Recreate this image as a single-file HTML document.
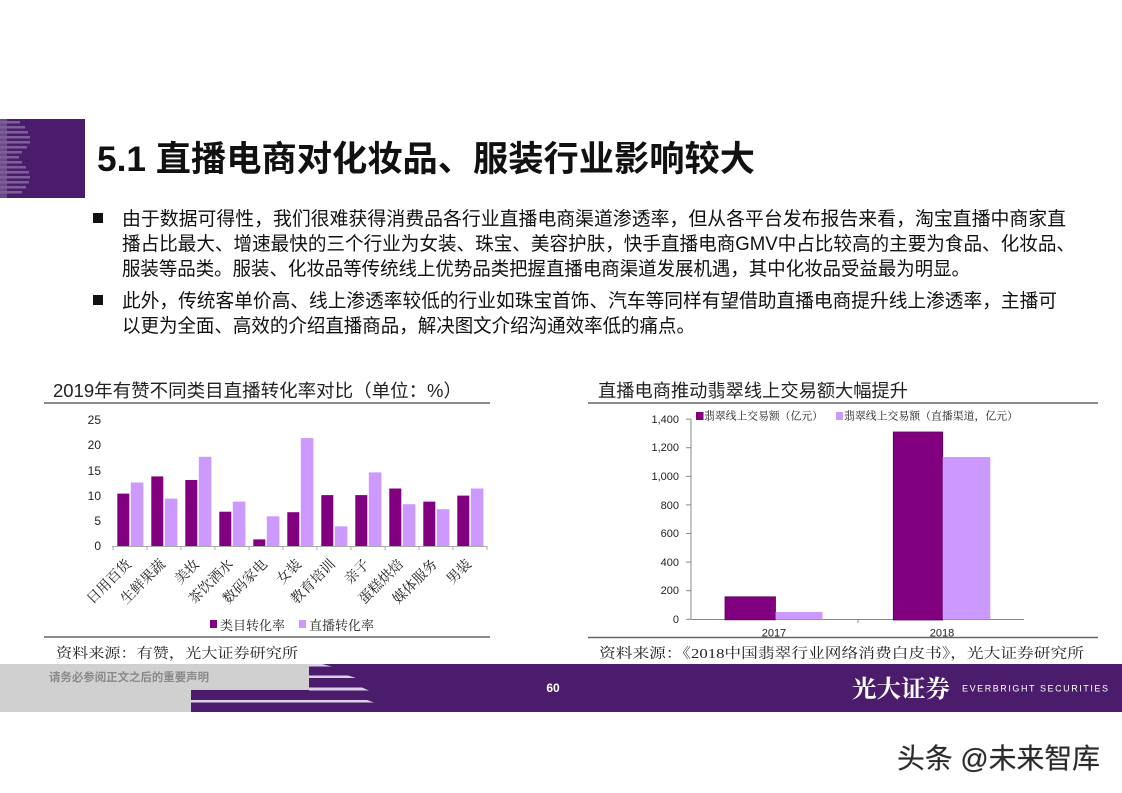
<!DOCTYPE html>
<html><head><meta charset="utf-8"><style>
html,body{margin:0;padding:0;background:#fff;}
svg{display:block;}
.sans{font-family:"Liberation Sans","Noto Sans CJK SC",sans-serif;}
.serif{font-family:"Liberation Serif","Noto Serif CJK SC",serif;}
</style></head><body>
<svg width="1122" height="793" viewBox="0 0 1122 793" xmlns="http://www.w3.org/2000/svg">
<rect x="0" y="0" width="1122" height="793" fill="#fff"/>

<!-- Logo box -->
<rect x="0" y="119" width="85" height="79" fill="#4b1c6b"/>
<rect x="0" y="119" width="7" height="79" fill="#6a4a88"/>
<g fill="#7d609a">
<rect x="0" y="121" width="20" height="2.5"/>
<rect x="0" y="126" width="25" height="2.5"/>
<rect x="0" y="131" width="28" height="2.5"/>
<rect x="0" y="136" width="30" height="2.5"/>
<rect x="0" y="141" width="30" height="2.5"/>
<rect x="0" y="146" width="27" height="2.5"/>
<rect x="0" y="151" width="22" height="2.5"/>
<rect x="0" y="156" width="19" height="2.5"/>
<rect x="0" y="161" width="22" height="2.5"/>
<rect x="0" y="166" width="26" height="2.5"/>
<rect x="0" y="171" width="29" height="2.5"/>
<rect x="0" y="176" width="30" height="2.5"/>
<rect x="0" y="181" width="29" height="2.5"/>
<rect x="0" y="186" width="26" height="2.5"/>
<rect x="0" y="191" width="22" height="2.5"/>
</g>

<!-- Title -->
<text class="sans" x="97" y="171" font-size="35" font-weight="bold" fill="#111" textLength="658" lengthAdjust="spacingAndGlyphs">5.1 直播电商对化妆品、服装行业影响较大</text>

<!-- Bullets -->
<rect x="93" y="213" width="10" height="10" fill="#111"/>
<rect x="93" y="295" width="10" height="10" fill="#111"/>
<g class="sans" font-size="19" fill="#111">
<text x="122" y="225" textLength="944" lengthAdjust="spacingAndGlyphs">由于数据可得性，我们很难获得消费品各行业直播电商渠道渗透率，但从各平台发布报告来看，淘宝直播中商家直</text>
<text x="122" y="250" textLength="953" lengthAdjust="spacingAndGlyphs">播占比最大、增速最快的三个行业为女装、珠宝、美容护肤，快手直播电商GMV中占比较高的主要为食品、化妆品、</text>
<text x="122" y="275" textLength="848" lengthAdjust="spacingAndGlyphs">服装等品类。服装、化妆品等传统线上优势品类把握直播电商渠道发展机遇，其中化妆品受益最为明显。</text>
<text x="122" y="307" textLength="935" lengthAdjust="spacingAndGlyphs">此外，传统客单价高、线上渗透率较低的行业如珠宝首饰、汽车等同样有望借助直播电商提升线上渗透率，主播可</text>
<text x="122" y="332" textLength="573" lengthAdjust="spacingAndGlyphs">以更为全面、高效的介绍直播商品，解决图文介绍沟通效率低的痛点。</text>
</g>

<!-- LEFT CHART -->
<text class="sans" x="53" y="397" font-size="18" fill="#222" textLength="409" lengthAdjust="spacingAndGlyphs">2019年有赞不同类目直播转化率对比（单位：%）</text>
<line x1="44" y1="403" x2="490" y2="403" stroke="#666" stroke-width="1.5"/>
<g class="sans" font-size="12" fill="#222" text-anchor="end">
<text x="101" y="424">25</text>
<text x="101" y="449">20</text>
<text x="101" y="475">15</text>
<text x="101" y="500">10</text>
<text x="101" y="525">5</text>
<text x="101" y="550">0</text>
</g>
<g>
<!-- dark bars: x=117.3+34k, w=12 -->
<rect x="117.3" y="493.6" width="12" height="52.4" fill="#800080"/>
<rect x="151.3" y="476.4" width="12" height="69.6" fill="#800080"/>
<rect x="185.3" y="480.0" width="12" height="66.0" fill="#800080"/>
<rect x="219.3" y="511.7" width="12" height="34.3" fill="#800080"/>
<rect x="253.3" y="539.4" width="12" height="6.6" fill="#800080"/>
<rect x="287.3" y="512.2" width="12" height="33.8" fill="#800080"/>
<rect x="321.3" y="495.1" width="12" height="50.9" fill="#800080"/>
<rect x="355.3" y="495.1" width="12" height="50.9" fill="#800080"/>
<rect x="389.3" y="488.5" width="12" height="57.5" fill="#800080"/>
<rect x="423.3" y="501.6" width="12" height="44.4" fill="#800080"/>
<rect x="457.3" y="495.6" width="12" height="50.4" fill="#800080"/>
<!-- light bars -->
<rect x="130.8" y="482.5" width="12.6" height="63.5" fill="#cc99ff"/>
<rect x="164.8" y="498.6" width="12.6" height="47.4" fill="#cc99ff"/>
<rect x="198.8" y="456.8" width="12.6" height="89.2" fill="#cc99ff"/>
<rect x="232.8" y="501.6" width="12.6" height="44.4" fill="#cc99ff"/>
<rect x="266.8" y="516.3" width="12.6" height="29.7" fill="#cc99ff"/>
<rect x="300.8" y="438.1" width="12.6" height="107.9" fill="#cc99ff"/>
<rect x="334.8" y="526.3" width="12.6" height="19.7" fill="#cc99ff"/>
<rect x="368.8" y="472.4" width="12.6" height="73.6" fill="#cc99ff"/>
<rect x="402.8" y="504.2" width="12.6" height="41.8" fill="#cc99ff"/>
<rect x="436.8" y="509.2" width="12.6" height="36.8" fill="#cc99ff"/>
<rect x="470.8" y="488.5" width="12.6" height="57.5" fill="#cc99ff"/>
</g>
<line x1="112" y1="546.5" x2="487" y2="546.5" stroke="#aaa" stroke-width="1"/>
<g stroke="#aaa" stroke-width="1">
<line x1="113" y1="546" x2="113" y2="550"/><line x1="147" y1="546" x2="147" y2="550"/><line x1="181" y1="546" x2="181" y2="550"/><line x1="215" y1="546" x2="215" y2="550"/><line x1="249" y1="546" x2="249" y2="550"/><line x1="283" y1="546" x2="283" y2="550"/><line x1="317" y1="546" x2="317" y2="550"/><line x1="351" y1="546" x2="351" y2="550"/><line x1="385" y1="546" x2="385" y2="550"/><line x1="419" y1="546" x2="419" y2="550"/><line x1="453" y1="546" x2="453" y2="550"/><line x1="487" y1="546" x2="487" y2="550"/>
</g>
<g class="serif" font-size="14" fill="#222" text-anchor="end">
<text transform="translate(132,565) rotate(-45)">日用百货</text>
<text transform="translate(166,565) rotate(-45)">生鲜果蔬</text>
<text transform="translate(200,565) rotate(-45)">美妆</text>
<text transform="translate(234,565) rotate(-45)">茶饮酒水</text>
<text transform="translate(268,565) rotate(-45)">数码家电</text>
<text transform="translate(302,565) rotate(-45)">女装</text>
<text transform="translate(336,565) rotate(-45)">教育培训</text>
<text transform="translate(370,565) rotate(-45)">亲子</text>
<text transform="translate(404,565) rotate(-45)">蛋糕烘焙</text>
<text transform="translate(438,565) rotate(-45)">媒体服务</text>
<text transform="translate(472,565) rotate(-45)">男装</text>
</g>
<rect x="210" y="620" width="7" height="8" fill="#800080"/>
<text class="serif" x="220" y="630" font-size="13" fill="#222">类目转化率</text>
<rect x="299" y="620" width="7" height="8" fill="#cc99ff"/>
<text class="serif" x="309" y="630" font-size="13" fill="#222">直播转化率</text>
<line x1="44" y1="637" x2="490" y2="637" stroke="#666" stroke-width="1.5"/>
<text class="serif" x="56" y="658" font-size="14" fill="#222" textLength="242" lengthAdjust="spacingAndGlyphs">资料来源：有赞，光大证券研究所</text>

<!-- RIGHT CHART -->
<text class="sans" x="598" y="397" font-size="18" fill="#222" textLength="310" lengthAdjust="spacingAndGlyphs">直播电商推动翡翠线上交易额大幅提升</text>
<line x1="588" y1="403" x2="1098" y2="403" stroke="#666" stroke-width="1.5"/>
<g class="sans" font-size="11" fill="#222" text-anchor="end">
<text x="679" y="423">1,400</text>
<text x="679" y="451">1,200</text>
<text x="679" y="480">1,000</text>
<text x="679" y="509">800</text>
<text x="679" y="537">600</text>
<text x="679" y="566">400</text>
<text x="679" y="594">200</text>
<text x="679" y="623">0</text>
</g>
<g stroke="#888" stroke-width="1">
<line x1="691" y1="419" x2="691" y2="619.5"/>
<line x1="691" y1="619.5" x2="1024" y2="619.5"/>
<line x1="686" y1="419.1" x2="691" y2="419.1"/>
<line x1="686" y1="447.7" x2="691" y2="447.7"/>
<line x1="686" y1="476.3" x2="691" y2="476.3"/>
<line x1="686" y1="504.9" x2="691" y2="504.9"/>
<line x1="686" y1="533.5" x2="691" y2="533.5"/>
<line x1="686" y1="562.1" x2="691" y2="562.1"/>
<line x1="686" y1="590.7" x2="691" y2="590.7"/>
<line x1="686" y1="619.3" x2="691" y2="619.3"/>
<line x1="858" y1="619.5" x2="858" y2="623"/>
</g>
<rect x="725" y="596.8" width="50.5" height="23" fill="#800080" stroke="#5a005a" stroke-width="0.8"/>
<rect x="775.5" y="612" width="47" height="7.3" fill="#cc99ff"/>
<rect x="893.3" y="432" width="49.4" height="188" fill="#800080" stroke="#5a005a" stroke-width="0.8"/>
<rect x="942.7" y="457" width="47.6" height="162.3" fill="#cc99ff"/>
<g class="sans" font-size="11" fill="#222" text-anchor="middle">
<text x="774" y="636.5">2017</text>
<text x="942" y="636.5">2018</text>
</g>
<rect x="696" y="412" width="7.5" height="8" fill="#800080"/>
<text class="serif" x="704" y="419.7" font-size="11" fill="#222" textLength="119" lengthAdjust="spacingAndGlyphs">翡翠线上交易额（亿元）</text>
<rect x="836" y="412" width="7" height="8" fill="#cc99ff"/>
<text class="serif" x="844" y="419.7" font-size="11" fill="#222" textLength="174" lengthAdjust="spacingAndGlyphs">翡翠线上交易额（直播渠道，亿元）</text>
<line x1="588" y1="637.5" x2="1098" y2="637.5" stroke="#666" stroke-width="1.5"/>
<text class="serif" x="599" y="658" font-size="14" fill="#222" textLength="485" lengthAdjust="spacingAndGlyphs">资料来源：《2018中国翡翠行业网络消费白皮书》，光大证券研究所</text>

<!-- FOOTER -->
<rect x="0" y="664" width="1122" height="48" fill="#d0d0d0"/>
<rect x="309" y="664" width="813" height="48" fill="#4b1c6b"/>
<rect x="191" y="690" width="931" height="22" fill="#4b1c6b"/>
<rect x="191" y="688" width="118" height="2" fill="#d0d0d0"/>
<g fill="#dcd0e8">
<polygon points="309,664 322,664 332,666.5 309,666.5"/>
<polygon points="309,675.5 348,675.5 356,678 309,678"/>
<polygon points="309,687.5 362,687.5 369,690.5 309,690.5"/>
<polygon points="191,700 367,700 374,702.5 191,702.5"/>
</g>
<text class="sans" x="49" y="681" font-size="11.5" font-weight="bold" fill="#8a8a8a" textLength="160" lengthAdjust="spacingAndGlyphs">请务必参阅正文之后的重要声明</text>
<text class="sans" x="553" y="692" font-size="12" font-weight="bold" fill="#fff" text-anchor="middle">60</text>
<text class="serif" x="852" y="697" font-size="24" font-weight="bold" fill="#fff" textLength="98" lengthAdjust="spacingAndGlyphs">光大证券</text>
<text class="sans" x="962" y="691.5" font-size="9" fill="#fff" textLength="146" lengthAdjust="spacing">EVERBRIGHT SECURITIES</text>

<!-- Watermark -->
<text class="sans" x="897" y="768" font-size="28" fill="#2a2a2a" textLength="203" lengthAdjust="spacingAndGlyphs" style="paint-order:stroke" stroke="#bbb" stroke-width="0.6">头条 @未来智库</text>
</svg>
</body></html>
